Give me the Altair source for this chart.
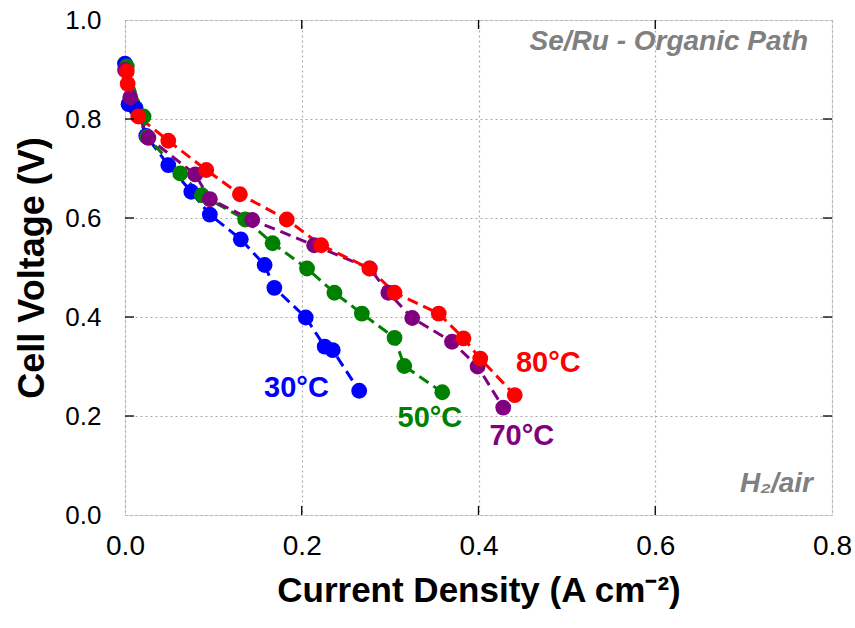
import altair as alt
import pandas as pd

# ---- data ----
j30 = [0.000, 0.004, 0.012, 0.024, 0.049, 0.075, 0.096, 0.131, 0.158, 0.169, 0.2045, 0.226, 0.235, 0.265]
v30 = [0.912, 0.830, 0.822, 0.766, 0.707, 0.653, 0.607, 0.557, 0.505, 0.459, 0.399, 0.340, 0.333, 0.251]

j50 = [0.002, 0.021, 0.025, 0.0625, 0.087, 0.136, 0.167, 0.206, 0.237, 0.268, 0.305, 0.316, 0.359]
v50 = [0.906, 0.805, 0.764, 0.690, 0.646, 0.597, 0.549, 0.498, 0.449, 0.407, 0.358, 0.301, 0.248]

j70 = [0.000, 0.006, 0.0265, 0.0795, 0.096, 0.144, 0.214, 0.277, 0.298, 0.325, 0.370, 0.399, 0.428]
v70 = [0.899, 0.844, 0.762, 0.688, 0.638, 0.596, 0.545, 0.498, 0.449, 0.398, 0.350, 0.300, 0.217]

j80 = [0.002, 0.003, 0.015, 0.049, 0.092, 0.130, 0.183, 0.222, 0.2765, 0.305, 0.355, 0.383, 0.402, 0.441]
v80 = [0.896, 0.871, 0.805, 0.756, 0.697, 0.648, 0.597, 0.545, 0.498, 0.449, 0.407, 0.357, 0.316, 0.242]

series_names = ["30°C", "50°C", "70°C", "80°C"]
series_colors = ["#0000FF", "#008000", "#800080", "#FF0000"]

label_x = [0.194, 0.345, 0.449, 0.479]
label_y = [0.257, 0.196, 0.160, 0.308]

x_ticks = [0.0, 0.2, 0.4, 0.6, 0.8]
y_ticks = [0.0, 0.2, 0.4, 0.6, 0.8, 1.0]
x_inner_ticks = [0.2, 0.4, 0.6]
y_inner_ticks = [0.2, 0.4, 0.6, 0.8]

W, H = 707, 495
FONT = "Liberation Sans, Arial, sans-serif"

rows = []
for name, js, vs in zip(series_names, [j30, j50, j70, j80], [v30, v50, v70, v80]):
    for i, (j, v) in enumerate(zip(js, vs)):
        rows.append({"series": name, "j": j, "v": v, "idx": i})
df = pd.DataFrame(rows)

labels_df = pd.DataFrame({"series": series_names, "x": label_x, "y": label_y})

xscale = alt.Scale(domain=[0, 0.8], nice=False, zero=False)
yscale = alt.Scale(domain=[0, 1.0], nice=False, zero=False)
cscale = alt.Scale(domain=series_names, range=series_colors)

xaxis = alt.Axis(
    values=x_ticks, format=".1f", title="Current Density (A cm⁻²)",
    ticks=False, domain=False, grid=True, gridDash=[2, 3], gridColor="#aaaaaa", gridWidth=1.2,
    labelFont=FONT, labelFontSize=28, labelColor="#000000", labelPadding=17,
    titleFont=FONT, titleFontSize=35, titleFontWeight="bold", titleColor="#000000", titlePadding=13,
    labelFlush=False,
)
yaxis = alt.Axis(
    values=y_ticks, format=".1f", title="Cell Voltage (V)",
    ticks=False, domain=False, grid=True, gridDash=[2, 3], gridColor="#aaaaaa", gridWidth=1.2,
    labelFont=FONT, labelFontSize=26, labelColor="#000000", labelPadding=24,
    titleFont=FONT, titleFontSize=36, titleFontWeight="bold", titleColor="#000000", titlePadding=13,
    labelFlush=False,
)

base = alt.Chart(df)

lines = base.mark_line(strokeDash=[11, 6], strokeWidth=3).encode(
    x=alt.X("j:Q", scale=xscale, axis=xaxis),
    y=alt.Y("v:Q", scale=yscale, axis=yaxis),
    color=alt.Color("series:N", scale=cscale, legend=None),
    detail="series:N",
    order="idx:Q",
)

points = base.mark_circle(size=250, opacity=1).encode(
    x=alt.X("j:Q", scale=xscale),
    y=alt.Y("v:Q", scale=yscale),
    color=alt.Color("series:N", scale=cscale, legend=None),
)

labels = alt.Chart(labels_df).mark_text(
    font=FONT, fontSize=29, fontWeight="bold", align="center", baseline="middle"
).encode(
    x=alt.X("x:Q", scale=xscale),
    y=alt.Y("y:Q", scale=yscale),
    text="series:N",
    color=alt.Color("series:N", scale=cscale, legend=None),
)

# inward tick marks on all four sides
lt = pd.DataFrame({"t": y_inner_ticks})
bt = pd.DataFrame({"t": x_inner_ticks})
left_ticks = alt.Chart(lt).mark_rule(color="#000000", strokeWidth=1.3).encode(
    y=alt.Y("t:Q", scale=yscale), x=alt.value(0), x2=alt.value(9))
right_ticks = alt.Chart(lt).mark_rule(color="#000000", strokeWidth=1.3).encode(
    y=alt.Y("t:Q", scale=yscale), x=alt.value(W - 9), x2=alt.value(W))
bottom_ticks = alt.Chart(bt).mark_rule(color="#000000", strokeWidth=1.3).encode(
    x=alt.X("t:Q", scale=xscale), y=alt.value(H - 9), y2=alt.value(H))
top_ticks = alt.Chart(bt).mark_rule(color="#000000", strokeWidth=1.3).encode(
    x=alt.X("t:Q", scale=xscale), y=alt.value(0), y2=alt.value(9))

ann_df = pd.DataFrame({"txt": ["Se/Ru - Organic Path", "H₂/air"], "xp": [683, 688], "yp": [22, 464]})
ann = alt.Chart(ann_df).mark_text(
    font=FONT, fontSize=28, fontWeight="bold", fontStyle="italic", color="#808080",
    align="right", baseline="middle"
).encode(x=alt.X("xp:Q", scale=None), y=alt.Y("yp:Q", scale=None), text="txt:N")

chart = alt.layer(
    lines, points, labels, left_ticks, right_ticks, bottom_ticks, top_ticks, ann
).properties(
    width=W, height=H,
    autosize=alt.AutoSizeParams(type="none"),
    padding={"left": 125, "top": 20, "right": 23, "bottom": 113},
).configure_view(
    stroke="#222222", strokeWidth=1.5
).configure(background="#ffffff")

chart.save("out.html", embed_options={"renderer": "svg", "actions": False})
